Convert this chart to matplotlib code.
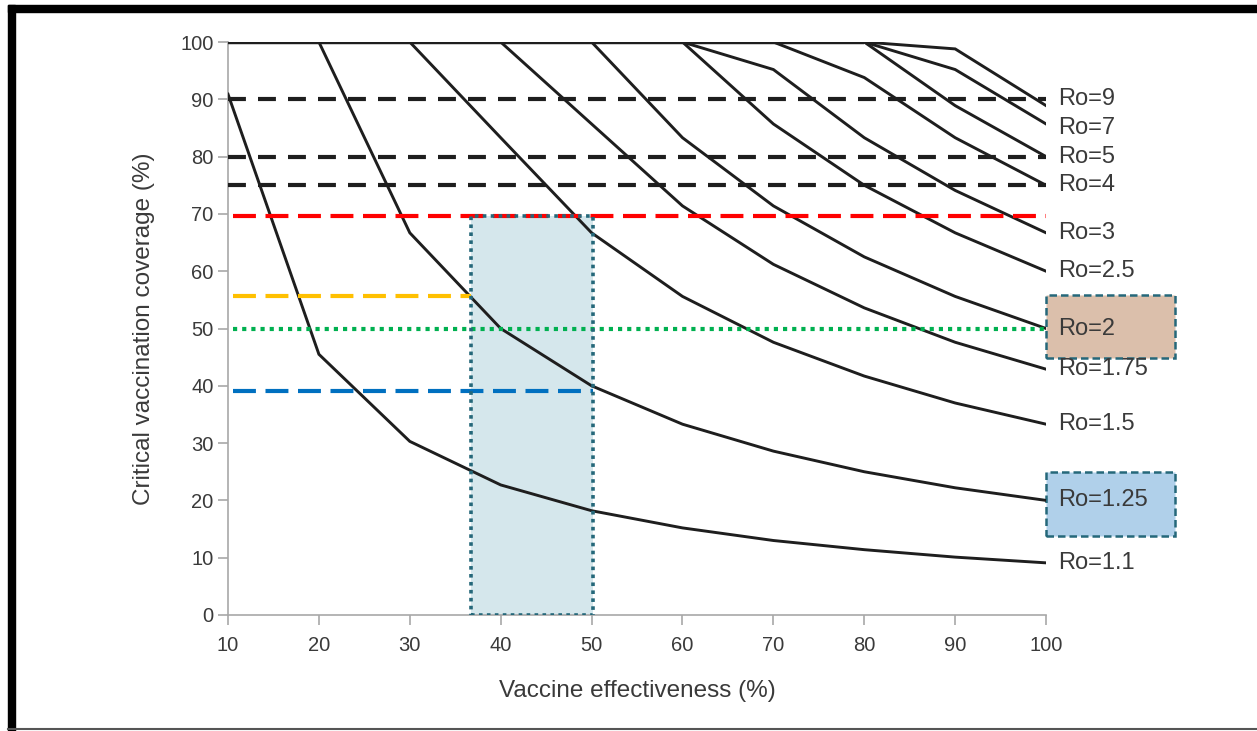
import numpy as np
import matplotlib
matplotlib.use('Agg')
import matplotlib.pyplot as plt
from matplotlib.patches import Rectangle
from matplotlib.lines import Line2D

plt.rcParams['font.family'] = ['Liberation Sans', 'DejaVu Sans']

# vaccine effectiveness (%) at which the curves are sampled
effectiveness = [10, 20, 30, 40, 50, 60, 70, 80, 90, 100]

# critical coverage (%), one list per Ro
ro_labels = ['Ro=9', 'Ro=7', 'Ro=5', 'Ro=4', 'Ro=3', 'Ro=2.5',
             'Ro=2', 'Ro=1.75', 'Ro=1.5', 'Ro=1.25', 'Ro=1.1']
cov_ro9   = [100, 100, 100, 100, 100, 100, 100, 100, 98.8, 88.9]
cov_ro7   = [100, 100, 100, 100, 100, 100, 100, 100, 95.2, 85.7]
cov_ro5   = [100, 100, 100, 100, 100, 100, 100, 100, 88.9, 80.0]
cov_ro4   = [100, 100, 100, 100, 100, 100, 100, 93.8, 83.3, 75.0]
cov_ro3   = [100, 100, 100, 100, 100, 100, 95.2, 83.3, 74.1, 66.7]
cov_ro25  = [100, 100, 100, 100, 100, 100, 85.7, 75.0, 66.7, 60.0]
cov_ro2   = [100, 100, 100, 100, 100, 83.3, 71.4, 62.5, 55.6, 50.0]
cov_ro175 = [100, 100, 100, 100, 85.7, 71.4, 61.2, 53.6, 47.6, 42.9]
cov_ro15  = [100, 100, 100, 83.3, 66.7, 55.6, 47.6, 41.7, 37.0, 33.3]
cov_ro125 = [100, 100, 66.7, 50.0, 40.0, 33.3, 28.6, 25.0, 22.2, 20.0]
cov_ro11  = [90.9, 45.5, 30.3, 22.7, 18.2, 15.2, 13.0, 11.4, 10.1, 9.1]
curves = [cov_ro9, cov_ro7, cov_ro5, cov_ro4, cov_ro3, cov_ro25,
          cov_ro2, cov_ro175, cov_ro15, cov_ro125, cov_ro11]

# reference coverage levels (%)
black_levels = [90, 80, 75]
red_level = 69.7
orange_level = 55.7
green_level = 50
blue_level = 39.1
# shaded effectiveness window (%)
window = [36.7, 50.2]

txt = '#3a3a3a'
fig = plt.figure(figsize=(12.57, 7.31), dpi=100)
ax = fig.add_axes([0.1814, 0.1587, 0.6508, 0.7838])

# shaded window (fill below, border on top)
ax.add_patch(Rectangle((window[0], 0), window[1] - window[0], red_level,
                       facecolor='#d5e7ec', edgecolor='none', zorder=1))

for c in curves:
    ax.plot(effectiveness, c, color='#1e1e1e', lw=2.1, zorder=3,
            solid_joinstyle='miter')
# the saturated 100 % stretch looks heavier where curves overlap
ax.plot([10, 80], [100, 100], color='#1e1e1e', lw=3.2, zorder=3,
        solid_capstyle='butt')

for lv in black_levels:
    ax.plot([10, 100], [lv, lv], color='#1e1e1e', lw=3,
            ls=(0, (4.3, 2.9)), zorder=4)
ax.plot([10.5, 100], [red_level] * 2, color='#ff0000', lw=3,
        ls=(0, (5.5, 2.3)), zorder=4)
ax.plot([10.5, window[0]], [orange_level] * 2, color='#ffc000', lw=3,
        ls=(0, (5.5, 2.3)), zorder=4)
ax.plot([10.5, window[1]], [blue_level] * 2, color='#0070c0', lw=3,
        ls=(0, (5.5, 2.3)), zorder=4)
ax.plot([10.5, 100], [green_level] * 2, color='#00b050', lw=3,
        ls=(0, (1, 1.2)), zorder=4)

ax.add_patch(Rectangle((window[0], 0), window[1] - window[0], red_level,
                       facecolor='none', edgecolor='#25687a', lw=2.6,
                       ls=(0, (1, 1.2)), zorder=5))

# highlighted label boxes
ax.add_patch(Rectangle((100, 44.9), 14.2, 11.0, facecolor='#dbbfab',
                       edgecolor='#25687a', lw=1.8, ls=(0, (3, 1.6)),
                       clip_on=False, zorder=2))
ax.add_patch(Rectangle((100, 13.8), 14.2, 11.2, facecolor='#b0d0ea',
                       edgecolor='#25687a', lw=1.8, ls=(0, (3, 1.6)),
                       clip_on=False, zorder=2))

# labels sit at the curve ends, the two top ones nudged apart
nudge = {'Ro=9': 1.2, 'Ro=7': -0.7}
for lab, c in zip(ro_labels, curves):
    ax.text(101.3, c[-1] + nudge.get(lab, 0), lab, fontsize=17, color=txt,
            va='center', ha='left', clip_on=False, zorder=6)

ax.set_xlim(10, 100)
ax.set_ylim(0, 100)
ax.set_xticks(range(10, 101, 10))
ax.set_yticks(range(0, 101, 10))
for s in ['top', 'right']:
    ax.spines[s].set_visible(False)
for s in ['left', 'bottom']:
    ax.spines[s].set_color('#a8a8a8')
    ax.spines[s].set_linewidth(1.2)
ax.tick_params(colors='#a8a8a8', labelcolor=txt, labelsize=14.5,
               length=7, width=1.2)
ax.tick_params(axis='x', pad=8)
ax.set_xlabel('Vaccine effectiveness (%)', fontsize=17.5, color=txt,
              labelpad=18)
ax.set_ylabel('Critical vaccination coverage (%)', fontsize=17.5,
              color=txt, labelpad=18)

# outer frame of the screenshot
fig.add_artist(Rectangle((8 / 1257, 0), 7 / 1257, 1 - 5 / 731,
                         transform=fig.transFigure, color='black'))
fig.add_artist(Rectangle((8 / 1257, 1 - 12 / 731), 1, 7 / 731,
                         transform=fig.transFigure, color='black'))
fig.add_artist(Line2D([8 / 1257, 1], [2 / 731, 2 / 731],
                      transform=fig.transFigure, color='#555555', lw=1.5))

fig.savefig('out.png', dpi=100)
